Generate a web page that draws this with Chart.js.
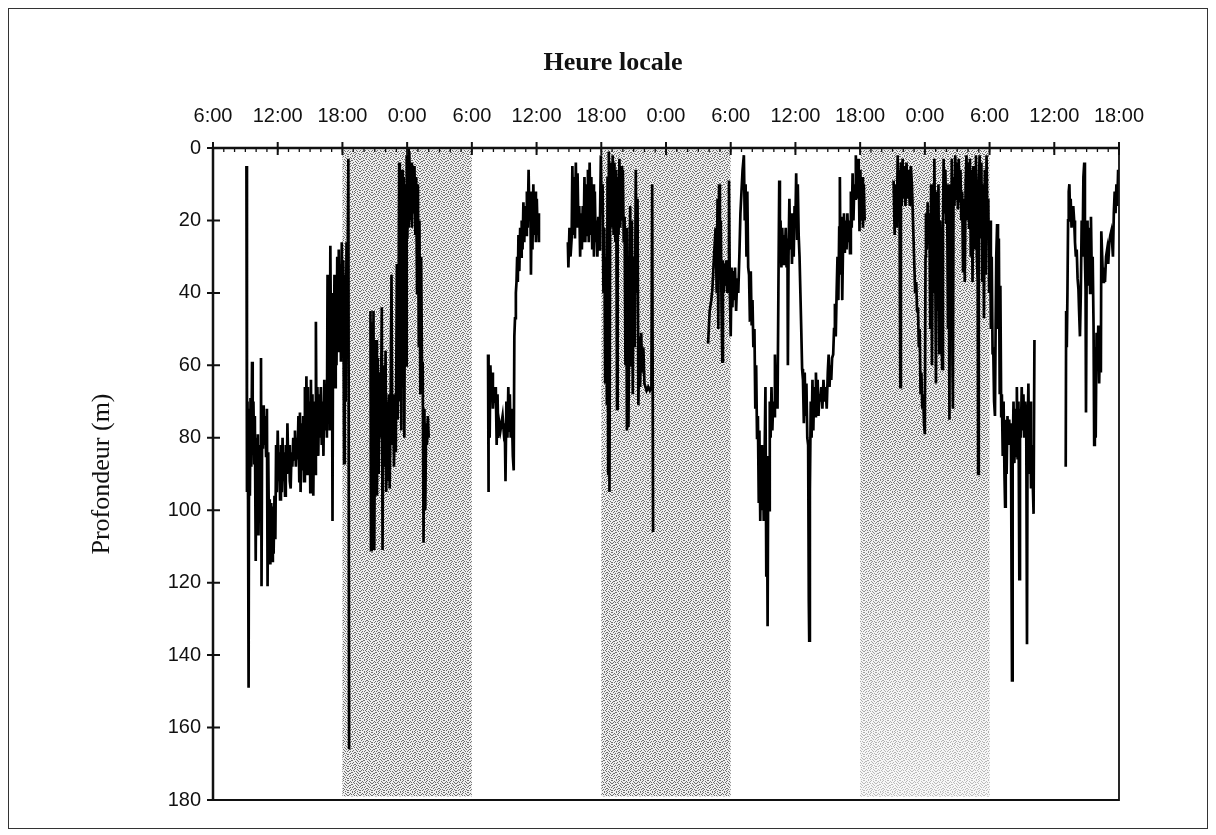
<!DOCTYPE html>
<html>
<head>
<meta charset="utf-8">
<script src="https://cdn.jsdelivr.net/npm/chart.js@4.4.1/dist/chart.umd.min.js"></script>
<style>
    html, body { margin: 0; padding: 0; background: #fff; }
    #frame { position: absolute; left: 8px; top: 8px; width: 1198px; height: 819px; border: 1px solid #333; }
    #chart { position: absolute; left: 0; top: 0; }
</style>
</head>
<body>
<div id="frame"></div>
<canvas id="chart" width="1216" height="835"></canvas>
<script>
// Hours counted from the first 6:00 on the axis; depth in metres
const hourTickLabels = ['6:00', '12:00', '18:00', '0:00', '6:00', '12:00', '18:00', '0:00',
                        '6:00', '12:00', '18:00', '0:00', '6:00', '12:00', '18:00'];
const nightStartHours = [12, 36, 60];
const nightEndHours = [24, 48, 72];

// recorded stretches of the dive trace, [hour, depth]
const traceA = [
    [3.10, 5], [3.15, 95], [3.20, 70], [3.25, 97], [3.30, 149], [3.35, 72], [3.42, 96], [3.48, 69],
    [3.55, 88], [3.62, 59], [3.68, 84], [3.75, 70], [3.82, 87], [3.88, 74], [3.96, 114], [4.02, 80],
    [4.10, 87], [4.16, 79], [4.22, 107], [4.30, 82], [4.38, 90], [4.45, 58], [4.50, 121], [4.56, 73],
    [4.63, 83], [4.70, 71], [4.78, 82], [4.85, 74], [4.92, 85], [5.00, 72], [5.06, 121], [5.12, 84],
    [5.20, 110], [5.26, 97], [5.32, 115], [5.40, 98], [5.48, 114], [5.55, 99], [5.62, 112], [5.70, 96],
    [5.78, 108], [5.85, 82], [5.92, 95], [6.00, 78], [6.08, 92], [6.15, 84], [6.22, 97], [6.30, 82],
    [6.38, 95], [6.45, 80], [6.52, 92], [6.60, 84], [6.68, 96], [6.75, 82], [6.85, 90], [6.90, 76],
    [6.98, 88], [7.05, 82], [7.12, 92], [7.20, 94], [7.28, 84], [7.36, 88], [7.44, 80], [7.52, 86],
    [7.60, 78], [7.68, 88], [7.76, 80], [7.84, 86], [7.92, 74], [8.00, 92], [8.06, 73], [8.12, 95],
    [8.20, 76], [8.28, 89], [8.36, 74], [8.44, 92], [8.52, 66], [8.60, 88], [8.66, 63], [8.74, 90],
    [8.80, 66], [8.88, 84], [8.95, 70], [9.02, 95], [9.08, 64], [9.15, 92], [9.22, 68], [9.30, 96],
    [9.38, 70], [9.46, 90], [9.54, 48], [9.60, 82], [9.68, 66], [9.76, 85], [9.84, 68], [9.92, 80],
    [10.00, 66], [10.08, 82], [10.16, 70], [10.24, 85], [10.32, 64], [10.40, 78], [10.48, 68], [10.56, 80],
    [10.62, 35], [10.70, 70], [10.76, 40], [10.82, 78], [10.88, 27], [10.95, 60], [11.02, 40], [11.08, 103],
    [11.14, 40], [11.20, 62], [11.26, 35], [11.32, 66], [11.38, 40], [11.45, 60], [11.52, 30], [11.60, 56],
    [11.66, 28], [11.72, 55], [11.80, 32], [11.86, 59], [11.94, 26], [12.02, 45], [12.08, 31], [12.15, 87],
    [12.22, 35], [12.30, 70], [12.38, 26], [12.45, 50], [12.55, 3], [12.62, 166]
];
const traceB = [
    [14.60, 45], [14.65, 111], [14.72, 48], [14.80, 105], [14.88, 45], [14.95, 111], [15.05, 60], [15.12, 53],
    [15.20, 96], [15.28, 58], [15.36, 90], [15.45, 62], [15.55, 80], [15.65, 44], [15.72, 111], [15.80, 60],
    [15.90, 88], [16.00, 56], [16.06, 95], [16.14, 70], [16.22, 92], [16.30, 68], [16.38, 94], [16.46, 75],
    [16.55, 35], [16.62, 82], [16.70, 68], [16.78, 88], [16.86, 70], [16.95, 84], [17.05, 32], [17.12, 75],
    [17.20, 50], [17.26, 4], [17.32, 70], [17.40, 45], [17.46, 78], [17.54, 6], [17.60, 66], [17.68, 8],
    [17.74, 80], [17.82, 10], [17.90, 60], [17.96, 2], [18.02, 25], [18.08, 0], [18.14, 22], [18.20, 1],
    [18.28, 20], [18.36, 4], [18.44, 22], [18.52, 6], [18.60, 18], [18.68, 5], [18.76, 24], [18.84, 8],
    [18.92, 40], [19.00, 10], [19.08, 55], [19.14, 20], [19.22, 68], [19.30, 30], [19.38, 62], [19.44, 59],
    [19.52, 109], [19.60, 72], [19.68, 100], [19.76, 76], [19.84, 82], [19.92, 74], [20.00, 80]
];
const traceC = [
    [25.50, 57], [25.52, 95], [25.58, 62], [25.65, 80], [25.72, 60], [25.80, 70], [25.88, 62], [25.95, 72],
    [26.05, 66], [26.15, 70], [26.22, 66], [26.30, 82], [26.38, 68], [26.45, 80], [26.55, 76], [26.65, 78],
    [26.75, 76], [26.85, 74], [26.95, 78], [27.05, 76], [27.12, 92], [27.20, 70], [27.30, 80], [27.38, 66],
    [27.45, 78], [27.52, 68], [27.60, 80], [27.70, 72], [27.80, 85], [27.88, 89], [27.94, 52], [28.00, 47],
    [28.08, 40], [28.14, 37], [28.20, 30], [28.26, 37], [28.32, 24], [28.40, 34], [28.48, 22], [28.56, 30],
    [28.62, 20], [28.70, 28], [28.78, 15], [28.86, 26], [28.94, 16], [29.02, 24], [29.10, 12], [29.18, 22],
    [29.26, 6], [29.34, 20], [29.42, 12], [29.48, 35], [29.55, 15], [29.62, 28], [29.70, 10], [29.78, 24],
    [29.86, 12], [29.94, 26], [30.02, 14], [30.10, 24], [30.18, 18], [30.22, 26]
];
const traceD = [
    [32.90, 26], [32.95, 33], [33.05, 22], [33.15, 30], [33.25, 25], [33.32, 5], [33.40, 24], [33.48, 8],
    [33.56, 25], [33.64, 4], [33.72, 22], [33.80, 7], [33.88, 22], [33.96, 16], [34.04, 30], [34.12, 18],
    [34.20, 28], [34.28, 16], [34.36, 26], [34.44, 8], [34.52, 26], [34.60, 10], [34.68, 24], [34.76, 6],
    [34.84, 26], [34.92, 4], [35.00, 24], [35.08, 8], [35.16, 28], [35.24, 10], [35.32, 30], [35.40, 12],
    [35.48, 26], [35.56, 20], [35.64, 30], [35.72, 19], [35.80, 28], [35.88, 20], [35.96, 2], [36.04, 18],
    [36.12, 10], [36.20, 40], [36.28, 22], [36.36, 65], [36.44, 30], [36.52, 71], [36.58, 8], [36.64, 90],
    [36.70, 1], [36.76, 95], [36.82, 20], [36.90, 4], [36.98, 22], [37.06, 2], [37.14, 24], [37.22, 4],
    [37.30, 26], [37.38, 6], [37.46, 72], [37.52, 8], [37.60, 24], [37.68, 3], [37.76, 22], [37.84, 5],
    [37.92, 20], [38.00, 6], [38.08, 26], [38.16, 19], [38.24, 60], [38.30, 22], [38.38, 78], [38.44, 30],
    [38.52, 77], [38.60, 40], [38.68, 16], [38.76, 60], [38.84, 20], [38.92, 68], [39.00, 30], [39.10, 55],
    [39.20, 6], [39.28, 40], [39.36, 14], [39.44, 71], [39.52, 52], [39.60, 66], [39.70, 51], [39.80, 62],
    [39.90, 55], [40.00, 65], [40.10, 66], [40.20, 67], [40.35, 66], [40.50, 67], [40.65, 66], [40.72, 10],
    [40.80, 106]
];
const traceE = [
    [45.90, 54], [46.05, 45], [46.20, 42], [46.30, 39], [46.45, 30], [46.60, 22], [46.70, 40], [46.78, 14],
    [46.85, 50], [46.92, 10], [47.00, 30], [47.08, 20], [47.15, 45], [47.22, 59], [47.28, 31], [47.36, 40],
    [47.44, 32], [47.52, 38], [47.60, 31], [47.68, 40], [47.76, 35], [47.84, 9], [47.92, 40], [48.00, 52],
    [48.08, 33], [48.16, 44], [48.24, 34], [48.32, 42], [48.40, 33], [48.50, 45], [48.60, 36], [48.70, 40],
    [48.80, 30], [48.90, 18], [49.00, 12], [49.10, 6], [49.22, 2], [49.30, 20], [49.38, 10], [49.46, 30],
    [49.54, 12], [49.62, 33], [49.70, 35], [49.78, 48], [49.86, 34], [49.94, 49], [50.02, 42], [50.10, 55],
    [50.20, 50], [50.28, 72], [50.36, 60], [50.44, 80], [50.52, 74], [50.60, 98], [50.66, 78], [50.74, 103],
    [50.82, 82], [50.90, 100], [50.98, 84], [51.06, 103], [51.14, 86], [51.22, 66], [51.30, 118], [51.36, 90],
    [51.42, 132], [51.48, 85], [51.56, 100], [51.62, 70], [51.70, 80], [51.78, 66], [51.86, 78], [51.94, 70],
    [52.02, 74], [52.10, 57], [52.18, 70], [52.26, 60], [52.34, 72], [52.42, 40], [52.50, 9], [52.56, 30],
    [52.62, 20], [52.70, 33], [52.78, 22], [52.86, 32], [52.94, 24], [53.02, 30], [53.10, 22], [53.18, 33],
    [53.26, 25], [53.30, 60], [53.36, 30], [53.44, 14], [53.52, 28], [53.60, 18], [53.68, 32], [53.76, 20],
    [53.84, 30], [53.92, 16], [54.00, 20], [54.07, 7], [54.15, 25], [54.22, 10], [54.30, 24], [54.38, 30],
    [54.46, 40], [54.54, 50], [54.62, 61], [54.70, 64], [54.78, 76], [54.86, 62], [54.94, 74], [55.02, 65],
    [55.10, 80], [55.18, 82], [55.24, 125], [55.28, 136], [55.34, 95], [55.42, 70], [55.50, 80], [55.58, 64],
    [55.66, 78], [55.74, 66], [55.82, 74], [55.90, 62], [55.98, 72], [56.06, 64], [56.14, 74], [56.22, 68],
    [56.30, 70], [56.40, 66], [56.50, 72], [56.60, 64], [56.70, 70], [56.80, 66], [56.90, 72], [57.00, 62],
    [57.08, 57], [57.16, 66], [57.24, 60], [57.32, 64], [57.40, 58], [57.50, 57], [57.58, 50], [57.66, 43],
    [57.74, 52], [57.82, 40], [57.90, 30], [57.98, 42], [58.06, 22], [58.12, 8], [58.18, 35], [58.26, 19],
    [58.34, 42], [58.42, 26], [58.50, 18], [58.58, 29], [58.66, 20], [58.74, 28], [58.82, 18], [58.90, 26],
    [58.98, 20], [59.06, 29], [59.14, 12], [59.22, 22], [59.30, 7], [59.38, 20], [59.46, 10], [59.54, 14],
    [59.60, 2], [59.66, 12], [59.72, 4], [59.80, 14], [59.86, 3], [59.94, 23], [60.02, 6], [60.10, 20],
    [60.18, 8], [60.26, 22], [60.34, 10], [60.42, 20]
];
const traceF = [
    [63.10, 9], [63.20, 24], [63.30, 10], [63.40, 22], [63.48, 2], [63.56, 20], [63.64, 6], [63.72, 66],
    [63.78, 4], [63.86, 16], [63.94, 3], [64.02, 14], [64.10, 5], [64.20, 16], [64.30, 4], [64.40, 14],
    [64.50, 6], [64.60, 16], [64.70, 5], [64.80, 10], [64.90, 20], [65.00, 30], [65.10, 40], [65.20, 37],
    [65.28, 45], [65.36, 44], [65.44, 55], [65.52, 50], [65.60, 68], [65.68, 62], [65.76, 72], [65.84, 68],
    [65.92, 76], [66.00, 79], [66.06, 30], [66.10, 18], [66.18, 28], [66.26, 15], [66.34, 26], [66.42, 18],
    [66.50, 50], [66.58, 10], [66.66, 60], [66.74, 20], [66.82, 40], [66.88, 3], [66.96, 30], [67.03, 65],
    [67.10, 12], [67.18, 45], [67.26, 10], [67.34, 57], [67.42, 20], [67.50, 40], [67.60, 61], [67.68, 22],
    [67.74, 3], [67.82, 18], [67.90, 6], [67.98, 21], [68.06, 10], [68.14, 50], [68.22, 30], [68.28, 75],
    [68.34, 10], [68.42, 40], [68.50, 3], [68.56, 60], [68.60, 72], [68.66, 8], [68.74, 16], [68.82, 2],
    [68.90, 14], [68.98, 4], [69.06, 17], [69.14, 3], [69.22, 15], [69.30, 6], [69.38, 20], [69.46, 12],
    [69.54, 34], [69.62, 14], [69.70, 37], [69.78, 10], [69.86, 2], [69.94, 20], [70.02, 4], [70.10, 22],
    [70.18, 3], [70.26, 30], [70.34, 6], [70.42, 37], [70.50, 5], [70.58, 28], [70.66, 8], [70.74, 2],
    [70.82, 30], [70.90, 37], [70.94, 90], [71.00, 10], [71.08, 2], [71.16, 25], [71.24, 4], [71.32, 37],
    [71.40, 10], [71.48, 47], [71.56, 6], [71.64, 35], [71.72, 2], [71.80, 20], [71.88, 14], [71.96, 40],
    [72.04, 20], [72.12, 50], [72.20, 30], [72.28, 57], [72.34, 55], [72.42, 70], [72.50, 74], [72.56, 50],
    [72.62, 30], [72.70, 21], [72.78, 50], [72.86, 25], [72.94, 68], [73.00, 38], [73.08, 74], [73.14, 68],
    [73.22, 85], [73.30, 70], [73.38, 90], [73.44, 99], [73.50, 75], [73.58, 90], [73.66, 74], [73.74, 82],
    [73.82, 75], [73.90, 80], [73.98, 76], [74.04, 120], [74.08, 147], [74.14, 85], [74.22, 70], [74.30, 87],
    [74.38, 72], [74.46, 85], [74.53, 66], [74.60, 86], [74.68, 70], [74.76, 119], [74.82, 72], [74.90, 80],
    [74.98, 66], [75.06, 78], [75.14, 68], [75.22, 80], [75.30, 70], [75.40, 76], [75.47, 137], [75.52, 80],
    [75.60, 65], [75.68, 90], [75.76, 70], [75.84, 94], [75.92, 82], [76.00, 92], [76.08, 101], [76.16, 53]
];
const traceG = [
    [79.06, 88], [79.10, 45], [79.16, 55], [79.22, 40], [79.28, 20], [79.34, 12], [79.40, 10], [79.46, 18],
    [79.52, 14], [79.60, 22], [79.68, 18], [79.76, 16], [79.84, 20], [79.92, 26], [80.00, 30], [80.08, 28],
    [80.16, 36], [80.24, 39], [80.30, 45], [80.38, 52], [80.46, 40], [80.54, 20], [80.62, 30], [80.70, 8],
    [80.78, 4], [80.84, 30], [80.90, 39], [80.94, 73], [81.00, 35], [81.08, 20], [81.16, 38], [81.24, 22],
    [81.32, 40], [81.40, 19], [81.48, 36], [81.56, 30], [81.64, 49], [81.70, 82], [81.76, 55], [81.84, 80],
    [81.92, 51], [82.00, 60], [82.08, 49], [82.16, 65], [82.24, 52], [82.32, 62], [82.36, 23], [82.44, 30],
    [82.52, 37], [82.60, 33], [82.70, 37], [82.80, 30], [82.90, 28], [83.00, 32], [83.10, 26], [83.20, 24],
    [83.28, 23], [83.36, 26], [83.44, 30], [83.52, 18], [83.60, 12], [83.68, 18], [83.76, 10], [83.84, 16],
    [83.92, 6], [83.98, 12]
];

const traces = [traceA, traceB, traceC, traceD, traceE, traceF, traceG];

// join the stretches, leaving a break (null) between recordings
const diveData = [];
traces.forEach((seg, i) => {
    seg.forEach(p => diveData.push({ x: p[0], y: p[1] }));
    if (i < traces.length - 1) diveData.push({ x: seg[seg.length - 1][0] + 0.01, y: null });
});

const INK = '#111';
const SANS = "'Liberation Sans', Arial, sans-serif";
const SERIF = "'Liberation Serif', 'Times New Roman', serif";

function makeStipple(ctx) {
    // fixed irregular dot mask, gives the scanned screen-tone look
    const mask = [
        '100010010001',
        '001000100100',
        '010101000010',
        '100000101001',
        '000110000100',
        '011000010010',
        '100001001000',
        '001010000101',
        '010000110000',
        '000101001010',
        '101000010001',
        '000010100100'
    ];
    const c = document.createElement('canvas');
    c.width = 12; c.height = 12;
    const g = c.getContext('2d');
    g.fillStyle = '#eeeeee';
    g.fillRect(0, 0, 12, 12);
    g.fillStyle = '#6e6e6e';
    mask.forEach((row, r) => {
        for (let k = 0; k < row.length; k++) if (row[k] === '1') g.fillRect(k, r, 1, 1);
    });
    return ctx.createPattern(c, 'repeat');
}

const figurePlugin = {
    id: 'figure',
    beforeDatasetsDraw(chart) {
        const { ctx, scales: { x, y } } = chart;
        ctx.save();
        const stipple = makeStipple(ctx);
        nightStartHours.forEach((h, i) => {
            const x0 = x.getPixelForValue(h);
            const x1 = x.getPixelForValue(nightEndHours[i]);
            const y0 = y.getPixelForValue(0.5);
            const y1 = y.getPixelForValue(179);
            ctx.fillStyle = stipple;
            ctx.fillRect(x0, y0, x1 - x0, y1 - y0);
            if (i === nightStartHours.length - 1) {
                // last night band is printed fainter in its lower half
                const fade = ctx.createLinearGradient(0, y.getPixelForValue(80), 0, y1);
                fade.addColorStop(0, 'rgba(255,255,255,0)');
                fade.addColorStop(1, 'rgba(255,255,255,0.55)');
                ctx.fillStyle = fade;
                ctx.fillRect(x0, y.getPixelForValue(80), x1 - x0, y1 - y.getPixelForValue(80));
            }
        });
        ctx.restore();
    },
    afterDatasetsDraw(chart) {
        const { ctx, chartArea: a, scales: { x, y } } = chart;
        ctx.save();
        ctx.strokeStyle = INK;
        ctx.lineCap = 'butt';

        // hourly minor ticks, inside
        ctx.lineWidth = 1.3;
        ctx.beginPath();
        for (let h = 0; h <= 84; h++) {
            const px = x.getPixelForValue(h);
            ctx.moveTo(px, a.top);
            ctx.lineTo(px, a.top + 4);
        }
        ctx.stroke();

        // major ticks crossing the axes
        ctx.lineWidth = 2;
        ctx.beginPath();
        x.ticks.forEach(t => {
            const px = x.getPixelForValue(t.value);
            ctx.moveTo(px, a.top - 6);
            ctx.lineTo(px, a.top + 7);
        });
        y.ticks.forEach(t => {
            const py = y.getPixelForValue(t.value);
            ctx.moveTo(a.left - 6, py);
            ctx.lineTo(a.left + 7, py);
        });
        ctx.stroke();

        // frame
        ctx.lineWidth = 2.5;
        ctx.beginPath();
        ctx.moveTo(a.left, a.bottom);
        ctx.lineTo(a.left, a.top);
        ctx.lineTo(a.right, a.top);
        ctx.stroke();
        ctx.lineWidth = 1.8;
        ctx.beginPath();
        ctx.moveTo(a.right, a.top);
        ctx.lineTo(a.right, a.bottom);
        ctx.lineTo(a.left, a.bottom);
        ctx.stroke();

        // top axis title, set left of centre as in the original
        ctx.fillStyle = INK;
        ctx.font = 'bold 26px ' + SERIF;
        ctx.textAlign = 'center';
        ctx.textBaseline = 'alphabetic';
        ctx.fillText('Heure locale', 613, 70);
        ctx.restore();
    }
};

new Chart(document.getElementById('chart'), {
    type: 'line',
    data: {
        datasets: [{
            data: diveData,
            borderColor: '#000',
            borderWidth: 2.7,
            pointRadius: 0,
            tension: 0,
            spanGaps: false,
            fill: false
        }]
    },
    options: {
        responsive: false,
        animation: false,
        events: [],
        layout: { padding: { left: 80, top: 40, right: 97, bottom: 35 } },
        plugins: { legend: { display: false }, tooltip: { enabled: false } },
        scales: {
            x: {
                type: 'linear',
                position: 'top',
                min: 0,
                max: 84,
                grid: { display: false, drawTicks: false },
                border: { display: false },
                ticks: {
                    stepSize: 6,
                    autoSkip: false,
                    maxRotation: 0,
                    padding: 20,
                    color: INK,
                    font: { family: SANS, size: 20 },
                    callback: v => hourTickLabels[Math.round(v / 6)]
                },
                afterFit: s => { s.height = 108; }
            },
            y: {
                type: 'linear',
                position: 'left',
                min: 0,
                max: 180,
                reverse: true,
                grid: { display: false, drawTicks: false },
                border: { display: false },
                ticks: {
                    stepSize: 20,
                    padding: 12,
                    color: INK,
                    font: { family: SANS, size: 20 }
                },
                title: {
                    display: true,
                    text: 'Profondeur (m)',
                    color: INK,
                    font: { family: SERIF, size: 26 },
                    padding: { top: 7, bottom: 0 }
                },
                afterFit: s => { s.width = 133; }
            }
        }
    },
    plugins: [figurePlugin]
});
</script>
</body>
</html>
